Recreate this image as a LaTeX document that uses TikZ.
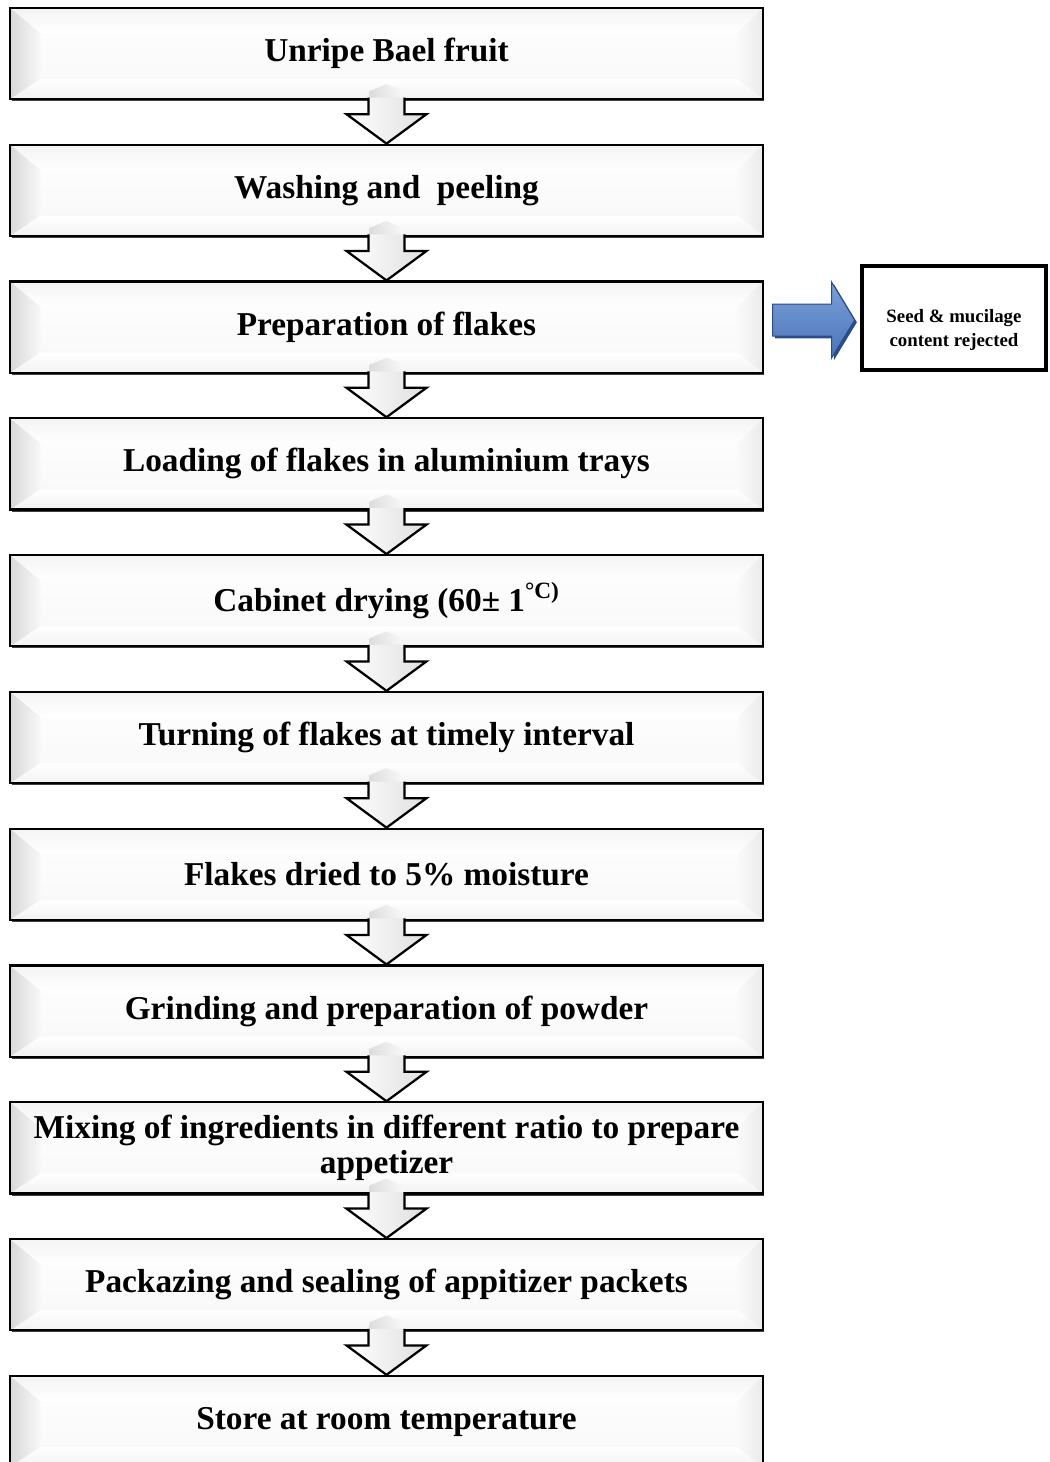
\documentclass[tikz,border=0pt]{standalone}
\usepackage{fontspec}
\setmainfont{Liberation Serif}
\usetikzlibrary{calc,shadows}

\definecolor{bluelight}{HTML}{7C9FD8}
\definecolor{bluemid}{HTML}{4A75BB}
\definecolor{bluedark}{HTML}{2B4C86}

\tikzset{
  stepbox/.style={draw=black, line width=1.5pt, minimum width=18.8cm, minimum height=2.28cm,
    inner sep=0pt, align=center, font=\fontsize{23.7}{25}\selectfont\bfseries,
    drop shadow={shadow xshift=1.3pt, shadow yshift=-1.5pt, fill=black!75, opacity=1},
    path picture={
      \coordinate (nw) at (path picture bounding box.north west);
      \coordinate (ne) at (path picture bounding box.north east);
      \coordinate (sw) at (path picture bounding box.south west);
      \coordinate (se) at (path picture bounding box.south east);
      \shade[top color=white, bottom color=gray!6] (nw) rectangle (se);
      \shade[left color=gray!30, right color=gray!6] (nw) -- ($(nw)+(30,25)$) -- ($(sw)+(30,-20)$) -- (sw) -- cycle;
      \shade[top color=gray!9, bottom color=white] (nw) -- (ne) -- ($(ne)+(-25,25)$) -- ($(nw)+(30,25)$) -- cycle;
      \shade[left color=gray!4, right color=gray!16] (ne) -- (se) -- ($(se)+(-25,-20)$) -- ($(ne)+(-25,25)$) -- cycle;
      \shade[top color=white, bottom color=gray!10] (sw) -- (se) -- ($(se)+(-25,-20)$) -- ($(sw)+(30,-20)$) -- cycle;
    }},
  flowarrow/.style={draw=black, line width=1.6pt, left color=white, right color=gray!25},
  arrowtop/.style={left color=gray!35, right color=gray!4, opacity=0.7},
  rejectbox/.style={draw=black, line width=2.8pt, minimum width=4.62cm, minimum height=2.6cm},
  rejecttext/.style={align=center, font=\fontsize{13.4}{17}\selectfont\bfseries},
  sidearrow/.style={draw=bluedark, line width=0.7pt, top color=bluelight, bottom color=bluemid,
    drop shadow={shadow xshift=1.6pt, shadow yshift=-1.6pt, fill=bluedark, opacity=1}}
}

\newcommand{\steparrow}[2]{%
  \shade[arrowtop] ($(#1.south)+(-17,-2)$) -- ($(#1.south)+(-17,-9)$) -- ($(#1.south)+(0,-16)$)
    -- ($(#1.south)+(17,-9)$) -- ($(#1.south)+(17,-2)$) -- cycle;
  \draw[flowarrow] ($(#1.south)+(-18,-2.5)$) -- ($(#1.south)+(-18,14)$) -- ($(#1.south)+(-40,14)$)
    -- (#2.north) -- ($(#1.south)+(40,14)$) -- ($(#1.south)+(18,14)$) -- ($(#1.south)+(18,-2.5)$);
}

\begin{document}
\begin{tikzpicture}[x=0.025cm, y=-0.025cm]
\useasboundingbox (0,0) rectangle (1050,1462);

\node[stepbox] (s1) at (386.5,53.5) {Unripe Bael fruit};
\node[stepbox] (s2) at (386.5,190.3) {Washing and\ \ peeling};
\node[stepbox] (s3) at (386.5,327.1) {Preparation of flakes};
\node[stepbox] (s4) at (386.5,463.9) {Loading of flakes in aluminium trays};
\node[stepbox] (s5) at (386.5,600.7) {Cabinet drying (60± 1\textsuperscript{°C)}};
\node[stepbox] (s6) at (386.5,737.5) {Turning of flakes at timely interval};
\node[stepbox] (s7) at (386.5,874.3) {Flakes dried to 5\% moisture};
\node[stepbox] (s8) at (386.5,1011.1) {Grinding and preparation of powder};
\node[stepbox] (s9) at (386.5,1147.9) {Mixing of ingredients in different ratio to prepare\\appetizer};
\node[stepbox] (s10) at (386.5,1284.7) {Packazing and sealing of appitizer packets};
\node[stepbox] (s11) at (386.5,1421.5) {Store at room temperature};

\steparrow{s1}{s2}
\steparrow{s2}{s3}
\steparrow{s3}{s4}
\steparrow{s4}{s5}
\steparrow{s5}{s6}
\steparrow{s6}{s7}
\steparrow{s7}{s8}
\steparrow{s8}{s9}
\steparrow{s9}{s10}
\steparrow{s10}{s11}

\node[rejectbox] (reject) at (954,318) {};
\node[rejecttext] (rejecttxt) at ($(reject.center)+(0,12)$) {Seed \& mucilage\\content rejected};

\draw[sidearrow] ($(s3.east |- reject.west)+(9,-14)$) -- ($(reject.west)+(-28,-14)$) -- ($(reject.west)+(-28,-36)$)
  -- ($(reject.west)+(-5,2)$) -- ($(reject.west)+(-28,40)$) -- ($(reject.west)+(-28,18)$)
  -- ($(s3.east |- reject.west)+(9,18)$) -- cycle;

\end{tikzpicture}
\end{document}
